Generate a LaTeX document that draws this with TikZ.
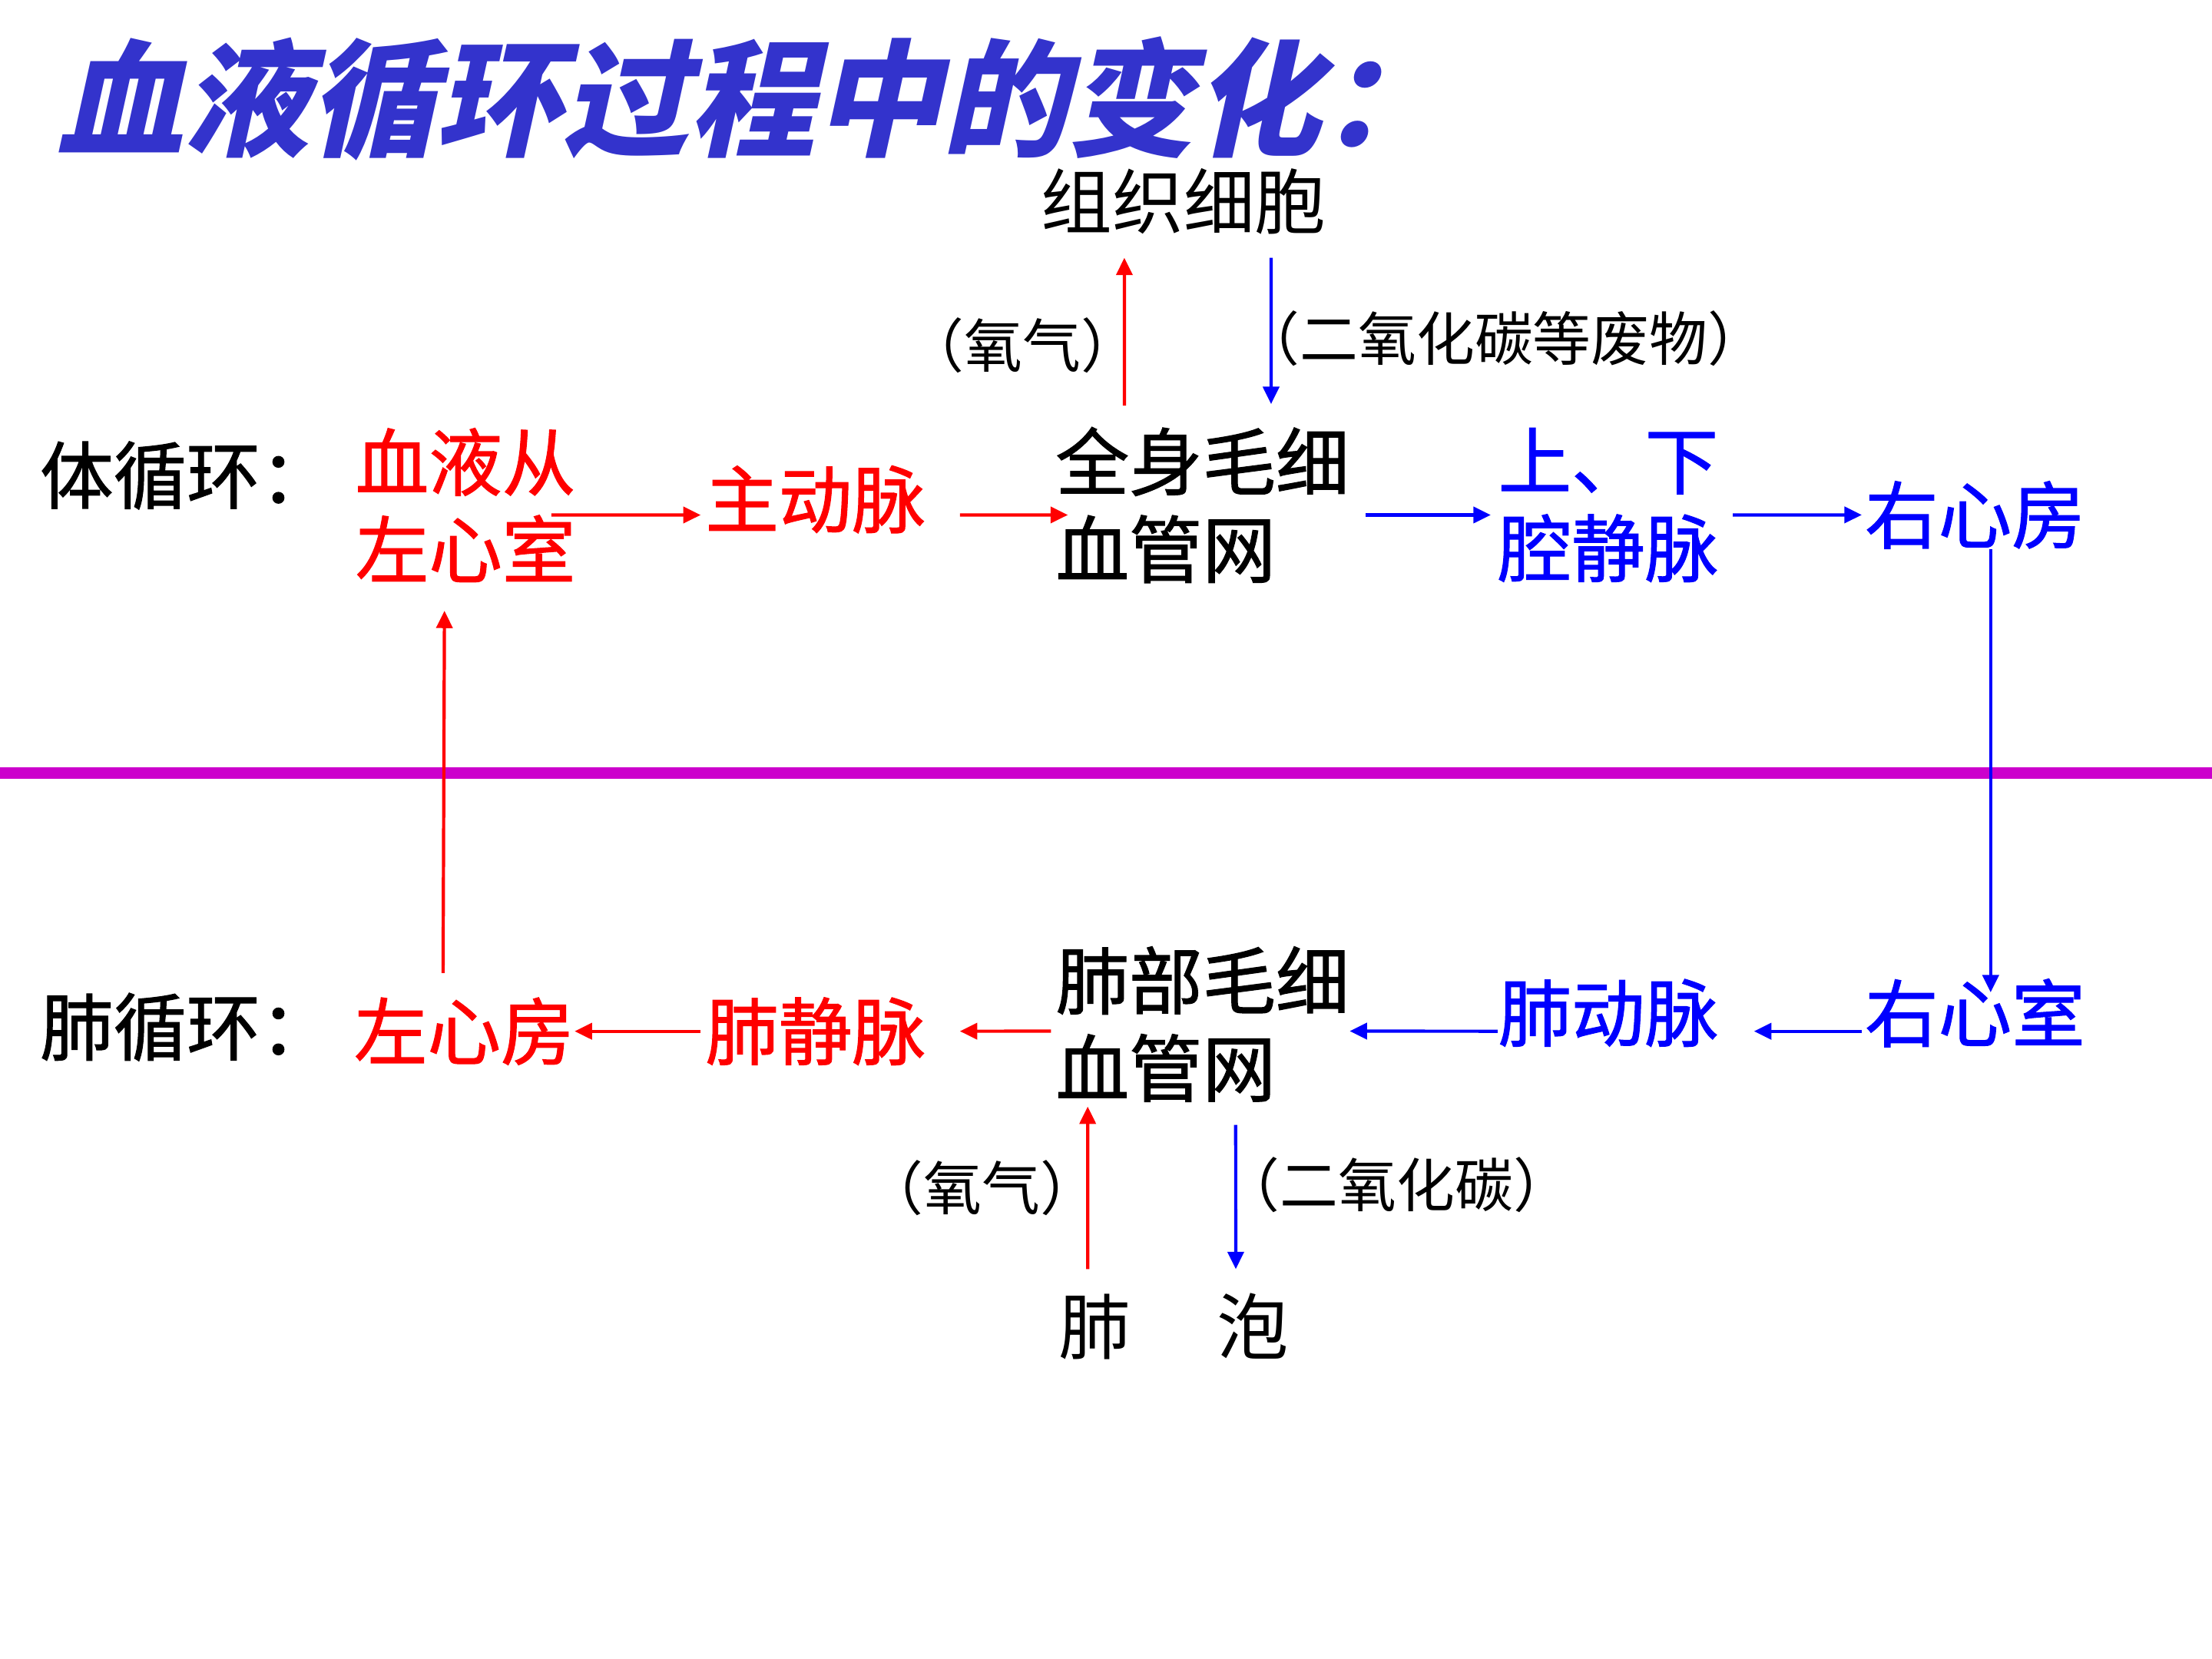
\documentclass[tikz,border=0pt]{standalone}
\usepackage{fontspec}
\setmainfont{Noto Sans CJK SC}
\newfontfamily\titlefont{Noto Sans CJK SC}[FakeSlant=0.22]
\newfontfamily\heavyfont{Noto Sans CJK SC}[FakeBold=1.2]
\usetikzlibrary{arrows.meta}
\definecolor{titleblue}{RGB}{51,51,204}
\definecolor{vred}{RGB}{255,0,0}
\definecolor{vblue}{RGB}{0,0,255}
\definecolor{divider}{RGB}{204,0,204}

\begin{document}
\begin{tikzpicture}[x=0.02cm,y=-0.02cm,
  big/.style={font=\heavyfont\fontsize{29.6}{35.3}\selectfont,inner sep=0pt,align=center},
  small/.style={font=\fontsize{23.5}{28}\selectfont,inner sep=0pt},
  redarr/.style={-{Triangle[length=7pt,width=6.5pt]},vred,line width=1.3pt},
  bluearr/.style={-{Triangle[length=7pt,width=6.5pt]},vblue,line width=1.3pt}]
\useasboundingbox (0,0) rectangle (1568,1176);
\node[anchor=west,inner sep=0pt,text=titleblue,font=\titlefont\bfseries\fontsize{51}{60}\selectfont] (title) at (40,70) {血液循环过程中的变化：};
% systemic circulation
\node[big,anchor=west] (syslabel) at (28,337) {体循环：};
\node[big,text=vred] (lv) at (330,358) {血液从\\左心室};
\node[big,text=vred] (aorta) at (578,354) {主动脉};
\node[big,anchor=west,align=left] (syscap) at (748,358) {全身毛细\\血管网};
\node[big,text=vblue] (vc) at (1140,358) {上、下\\腔静脉};
\node[big,text=vblue] (ra) at (1400,365) {右心房};
\node[font=\fontsize{28.7}{34}\selectfont,inner sep=0pt] (tissue) at (839,143) {组织细胞};
\node[small] (o2up) at (725,245) {（氧气）};
\node[small] (wasteup) at (1066,240) {（二氧化碳等废物）};
\draw[redarr] ([shift={(-10pt,-4pt)}]lv.east) -- ([shift={(-1.7pt,-6.3pt)}]aorta.west);
\draw[redarr] ([shift={(13.7pt,-6.3pt)}]aorta.east) -- ([shift={(5.1pt,-4pt)}]syscap.west);
\draw[bluearr] ([shift={(6.3pt,-4pt)}]syscap.east) -- ([shift={(-2.8pt,-4pt)}]vc.west);
\draw[bluearr] ([shift={(5.7pt,-4pt)}]vc.east) -- ([xshift=-1.1pt]ra.west);
\draw[redarr] ([shift={(27.9pt,8.5pt)}]syscap.north west) -- ([shift={(-23.9pt,-9.1pt)}]tissue.south);
\draw[bluearr] ([shift={(35.3pt,-9.1pt)}]tissue.south) -- ([shift={(87.1pt,9.1pt)}]syscap.north west);
% divider
\draw[divider,line width=4.6pt] (0,548) -- (1568,548);
% pulmonary circulation
\node[big,anchor=west] (pullabel) at (28,728) {肺循环：};
\node[big,text=vred] (la) at (329,731) {左心房};
\node[big,text=vred] (pv) at (578,731) {肺静脉};
\node[big,anchor=west,align=left] (pulcap) at (748,726) {肺部毛细\\血管网};
\node[big,text=vblue] (pa) at (1140,718) {肺动脉};
\node[big,text=vblue] (rv) at (1400,718) {右心室};
\node[font=\fontsize{29}{34}\selectfont,inner sep=0pt,anchor=west] (alveoli) at (750,940) {肺\hspace{1.2em}泡};
\node[small] (o2down) at (696,842) {（氧气）};
\node[small] (co2down) at (990,840) {（二氧化碳）};
\draw[bluearr] ([xshift=6.3pt]ra.south) -- ([shift={(6.3pt,-5.7pt)}]rv.north);
\draw[bluearr] ([shift={(-1.1pt,-7.4pt)}]rv.west) -- ([shift={(14.2pt,-7.4pt)}]pa.east);
\draw[bluearr] ([yshift=-7.4pt]pa.west) -- ([yshift=-2.8pt]pulcap.east);
\draw[redarr] ([shift={(-1.7pt,-2.8pt)}]pulcap.west) -- ([xshift=13.7pt]pv.east);
\draw[redarr] ([xshift=-1.7pt]pv.west) -- (la.east);
\draw[redarr] ([shift={(-8.5pt,9.7pt)}]la.north) -- ([shift={(-8.5pt,-11.4pt)}]lv.south);
\draw[redarr] ([shift={(12pt,9.4pt)}]alveoli.north west) -- ([shift={(13.1pt,-1.7pt)}]pulcap.south west);
\draw[bluearr] ([shift={(72.8pt,-9.1pt)}]pulcap.south west) -- ([shift={(71.7pt,9.4pt)}]alveoli.north west);
\end{tikzpicture}
\end{document}
